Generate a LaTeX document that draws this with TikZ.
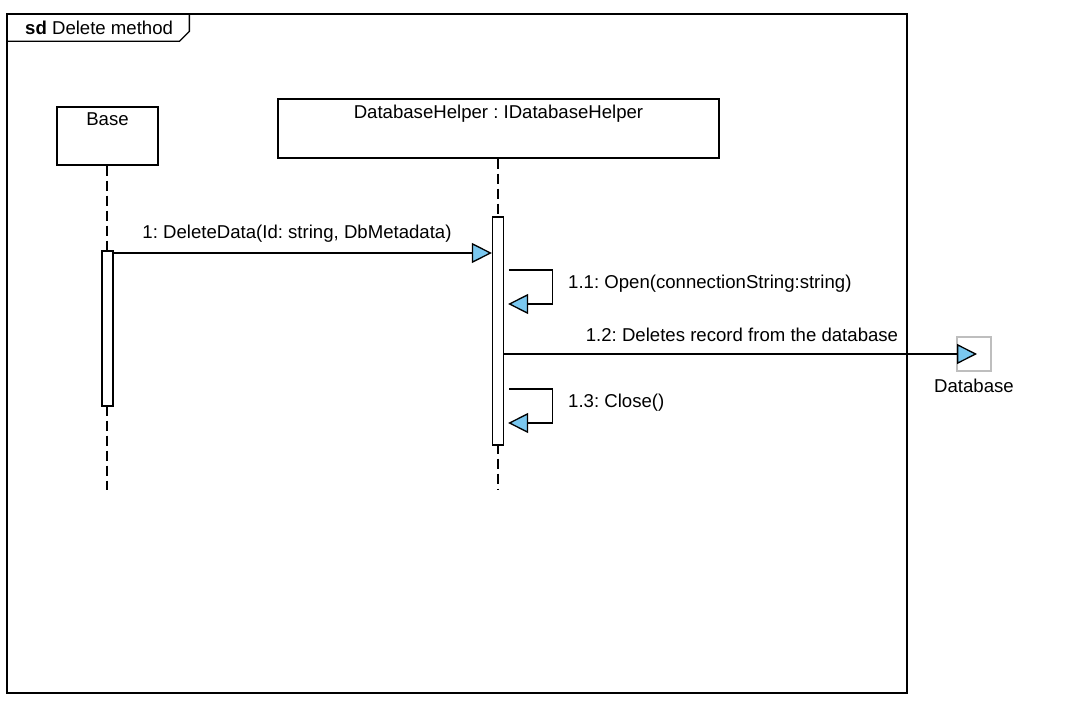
\documentclass[tikz,border=0pt]{standalone}
\usepackage{fontspec}
\setmainfont{Liberation Sans}
\usetikzlibrary{arrows.meta,calc}
\definecolor{arrowblue}{RGB}{122,200,240}
\definecolor{dbgray}{RGB}{190,190,190}
\frenchspacing
\tikzset{
  every node/.style={font=\fontsize{18.6}{21}\selectfont, inner sep=0pt},
  objbox/.style={draw, line width=1.3pt, fill=white},
  actbox/.style={draw, line width=1.3pt, fill=white, minimum width=11pt},
  lifeline/.style={line width=1.3pt, dash pattern=on 10pt off 5pt},
  msg/.style={line width=1.3pt, -{Triangle[length=20pt,width=20pt,fill=arrowblue,line width=1.3pt]}},
  lbl/.style={anchor=west},
}
\begin{document}
\frenchspacing
\begin{tikzpicture}[x=1pt,y=-1pt]
\useasboundingbox (0,0) rectangle (1080,703);
% frame
\node[draw, line width=1.3pt, minimum width=900pt, minimum height=679pt] (frame) at (457,353.5) {};
\draw[line width=1.3pt] ($(frame.north west)+(0,28)$) -- ($(frame.north west)+(173,28)$) -- ($(frame.north west)+(183,18)$) -- ($(frame.north west)+(183,0)$);
\node[anchor=west] (title) at (25,28) {\textbf{sd} Delete method};
% lifeline heads
\node[objbox, minimum width=101pt, minimum height=58pt,
  label={[anchor=north, yshift=-6pt]north:Base}] (base) at (107.5,136) {};
\node[objbox, minimum width=441pt, minimum height=59pt,
  label={[anchor=north, yshift=-6pt]north:DatabaseHelper : IDatabaseHelper}] (dbh) at (498.5,128.5) {};
% lifeline ends
\coordinate (baseEnd) at (107,490);
\coordinate (dbhEnd) at (498,490);
\draw[lifeline] (base.south -| baseEnd) -- (baseEnd);
\draw[lifeline] (dbh.south -| dbhEnd) -- (dbhEnd);
% activations
\node[actbox, minimum height=155pt] (act1) at (107.5,328.5) {};
\node[actbox, minimum height=228pt] (act2) at (498,331) {};
% database
\node[draw=dbgray, line width=1.3pt, fill=white, minimum width=34pt, minimum height=34pt,
  label={[anchor=north, yshift=-7pt]south:Database}] (db) at (974,354) {};
% y levels
\path (0,253) coordinate (y1)
      (0,270) coordinate (y11a) (0,304) coordinate (y11b)
      (0,354) coordinate (y12)
      (0,389) coordinate (y13a) (0,423) coordinate (y13b);
% message 1
\draw[msg] (act1.east |- y1) -- (act2.west |- y1);
\node at (297,234) (l1) {1: DeleteData(Id: string, DbMetadata)};
% message 1.1
\draw[msg] ($(act2.east |- y11a)+(5,0)$) -- ++(43,0) |- ($(act2.east |- y11b)+(4,0)$);
\node[lbl] (l11) at (568,284) {1.1: Open(connectionString:string)};
% message 1.2
\draw[msg] (act2.east |- y12) -- ($(db.center)+(3,0)$);
\node (l12) at (742,335) {1.2: Deletes record from the database};
% message 1.3
\draw[msg] ($(act2.east |- y13a)+(5,0)$) -- ++(43,0) |- ($(act2.east |- y13b)+(4,0)$);
\node[lbl] (l13) at (568,403) {1.3: Close()};
\end{tikzpicture}
\end{document}
